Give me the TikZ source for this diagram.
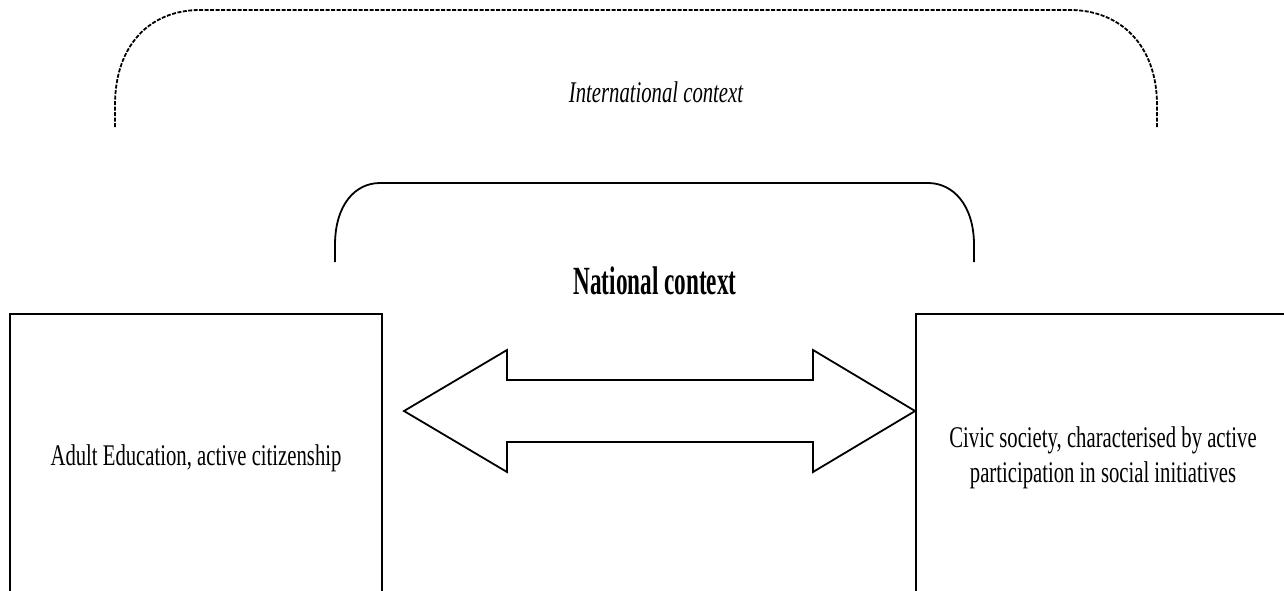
\documentclass[tikz,border=0pt]{standalone}
\usepackage{fontspec}
\setmainfont{Liberation Serif}
\newfontfamily\condserif[FakeStretch=0.69]{Liberation Serif}
\newfontfamily\condbold[FakeStretch=0.58]{Liberation Serif}
\tikzset{ctxsolid/.style = {line width=1.8pt}}
\tikzset{ctxdash/.style = {line width=1.8pt, dash pattern=on 4pt off 1.5pt}}
\tikzset{infobox/.style = {rectangle, draw, line width=1.8pt, inner sep=0pt, align=center,
                           font=\condserif\fontsize{30}{35}\selectfont}}
\tikzset{ctxlabel/.style = {inner sep=0pt}}

\begin{document}
\begin{tikzpicture}[x=1pt, y=-1pt]
    \useasboundingbox (0,0) rectangle (1284,590);
    \clip (0,0) rectangle (1284,590);

    % contexts
    \draw [ctxdash] (115,127) -- (115,105) .. controls (115,45) and (150,10) .. (200,10)
        -- (1070,10) .. controls (1120,10) and (1157,45) .. (1157,105) -- (1157,127);
    \node [ctxlabel, font=\condserif\itshape\fontsize{30}{35}\selectfont] (intl) at (656,92) {International context};

    \draw [ctxsolid] (335,262) -- (335,245) .. controls (335,205) and (355,183) .. (380,183)
        -- (928,183) .. controls (953,183) and (974,205) .. (974,245) -- (974,262);
    \node [ctxlabel, font=\condbold\bfseries\fontsize{40}{44}\selectfont] (natl) at (655,281) {National context};

    % the two sides
    \node [infobox, minimum width=372, minimum height=288] (adult) at (196,458)
        {Adult Education, active citizenship};
    \node [infobox, minimum width=374, minimum height=288] (civic) at (1103,458)
        {Civic society, characterised by active\\participation in social initiatives};

    % two-way arrow
    \coordinate (ltip) at (404,411);
    \coordinate (rtip) at (civic.west |- ltip);
    \draw [ctxsolid, line join=miter] (ltip) -- (507,350) -- (507,380) -- (813,380) -- (813,350)
        -- (rtip) -- (813,472) -- (813,442) -- (507,442) -- (507,472) -- cycle;
\end{tikzpicture}
\end{document}
